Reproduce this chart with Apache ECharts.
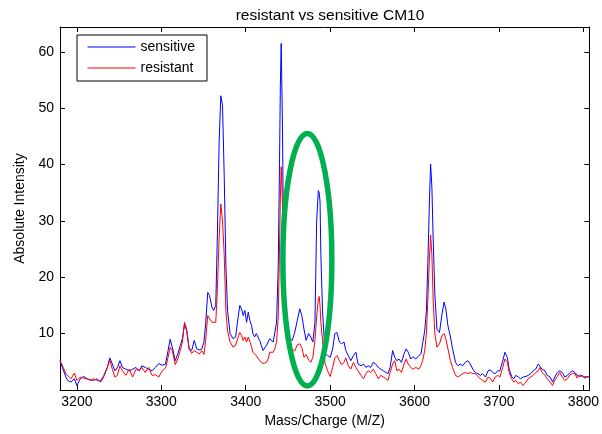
<!DOCTYPE html>
<html>
<head>
<meta charset="utf-8">
<script src="https://cdn.jsdelivr.net/npm/echarts@6/dist/echarts.min.js"></script>
<style>
html,body{margin:0;padding:0;background:#fff;}
#chart{width:602px;height:434px;}
</style>
</head>
<body>
<div id="chart"></div>
<script>
// Mass/charge positions (shared by both spectra)
const mz = [
3180,3187,3189,3193,3197,3200,3204,3208,3212,3216,3220,3224,3228,3232,3236,3239,3242,3245,3248,3251,3254,3258,3262,3266,3270,3274,3277,3281,3285,
3289,3293,3297,3301,3305,3308,3310.5,3313,3316.5,3319.5,3322.5,3325,3327.5,3330,3333,3336,3339,3342,3345,3348,3350.5,3352.5,3355,3357,3360,3362,
3364.5,3366.5,3368.5,3370.5,3372.5,3374.5,3376.5,3378.5,3381.5,
3385,3388,3391,3393,3395,3397,3399,3401,3403,3405,3407,3408.5,3410.5,3412.5,3414.5,3416.5,3418.5,3420.5,3422.5,3424.5,3426.5,3428.5,3430.5,3432.5,3434.5,
3436.5,3438.5,3440,3441,3442,3443.5,3444.5,3446,3448,3450,
3452,3455,3458,3461,3464,3466.5,3469,3471.5,3474.5,3477,3479.5,
3482,3484,3486,3487,3488,3489,3491,3494,
3497,3500,3503,3505.5,3508,3511,3513.5,3516.5,3518.5,3521.5,3524.5,3527.5,3530.5,3533,3536.5,3539.5,3542.5,3545,3548,3551,3554,3557,3560,3563,3566,3568.5,3571,3574,3576.5,3579,3581.5,3584.5,3587.5,3590,3592.5,3595.5,3598,
3601.5,3605,3607.5,3609.5,3612,
3614,3616,3617.5,3619,3620.5,3622,3624,3626.5,3629.5,3632.5,3635,3637,3639.5,3642.5,3645,3648.5,3651.5,3654,3657,3660,3663,3666,3669,3672,3675,3678,3680.5,3684,3687,3689.5,3692.5,3695.5,3698.5,
3701,3704.5,3707,3710,3712,3715,3717.5,3720,3723,3725.5,3728.5,3732,3734.5,3737.5,3740.5,3743.5,3746.5,3748.5,3751,3754.5,3757,3760.5,3763.5,3766,3769,3772,3775,3778,3781,3784,3787,3790,3792.5,3795.5,3799,3801.5,3804.5,3807
];
// Absolute intensity, sensitive sample (blue)
const sensitive = [
5.1,2.3,1.7,1.4,2.0,0.8,2.0,2.4,2.0,1.8,1.7,2.0,1.4,2.4,4.0,5.7,4.6,3.4,4.0,5.2,4.0,3.7,3.4,3.7,4.0,3.4,4.3,4.0,3.7,
3.4,4.0,4.7,4.4,4.6,7.0,9.0,7.6,5.2,6.4,7.9,9.1,11.7,10.5,7.3,7.0,8.8,7.3,7.1,7.3,8.5,11.7,17.3,16.8,14.7,14.1,
15,28,44,52.2,50.5,38,22,14,10,
9.1,9.4,12.9,15.0,14.4,13.2,14.1,12.0,13.8,12.3,11.4,10.0,9.4,10.0,9.4,8.8,7.9,7.0,7.3,7.9,8.2,9.1,8.8,8.5,10.2,
12,22,40,54,61.5,47,30,18,12,10,
9.1,8.8,10.2,12.3,14.4,13.2,10.8,8.8,10.0,9.4,8.5,
12,30,35.4,35,33.5,24,14,6.5,
6.1,5.8,7.3,10.0,10.2,8.5,8.2,8.5,7.0,6.1,5.2,6.1,6.7,4.6,4.3,4.6,4.0,4.3,4.0,4.9,4.6,4.0,3.7,3.4,3.1,2.9,4.0,7.0,5.8,5.2,5.5,4.9,6.4,7.3,6.7,5.5,5.9,
5.5,6.1,6.4,8.2,10.5,
14,24,33,40.1,36,27,17,10.8,10.2,13.5,15.6,14.4,11.4,9.4,7.3,4.9,4.3,4.6,4.3,4.9,5.2,4.6,3.7,3.1,2.9,2.6,2.9,2.3,3.4,3.6,3.1,2.9,3.4,
3.4,5.2,6.7,5.7,3.7,2.4,2.0,2.6,2.3,2.0,2.3,2.4,2.6,2.9,3.4,3.7,4.6,4.7,3.7,3.4,2.6,2.3,1.4,2.3,3.1,3.4,3.1,2.3,2.6,3.1,3.4,3.1,2.6,2.4,2.6,2.1,2.4,2.3
];
// Absolute intensity, resistant sample (red)
const resistant = [
5.3,2.9,2.6,2.0,3.0,1.7,2.3,2.1,2.0,1.7,2.0,1.7,1.6,2.6,4.0,5.3,3.7,2.3,2.6,4.3,3.4,2.6,3.7,2.3,3.7,3.4,4.0,3.1,4.0,
2.6,2.7,2.3,3.4,3.9,5.8,7.6,7.0,4.5,5.5,7.0,8.5,12.0,10.8,7.3,6.5,7.0,6.7,6.4,7.0,6.3,8.8,13.2,13.5,12.0,11.7,
12,18,27,33.0,30,24,14,10.5,8.5,
7.6,7.9,9.4,10.2,9.7,8.8,9.4,8.5,9.4,8.5,7.6,6.7,7.0,6.1,5.8,5.2,4.9,4.7,4.5,4.9,5.5,6.7,7.0,6.7,7.3,
8.5,13,25,34,39.6,33,24,15,10,7.9,
6.7,7.3,6.9,8.0,8.2,7.5,5.8,6.3,5.3,4.9,5.8,
8.8,13,16.2,16.6,15,12,8.8,4.7,
3.4,2.4,4.0,5.7,6.1,5.2,4.5,4.9,5.7,4.3,3.7,4.9,4.0,3.4,2.6,2.0,2.9,3.4,3.1,3.7,2.9,2.0,2.6,2.3,2.0,1.7,3.1,4.6,5.2,3.4,3.7,3.1,4.6,5.5,4.6,4.0,3.7,
4.0,3.7,4.3,5.2,7.0,
10,17,23,27.5,24,16,10,7.6,8.2,9.7,10.0,9.1,7.3,5.2,4.0,2.6,2.3,2.6,2.9,3.1,2.9,3.1,2.9,2.9,2.4,2.0,1.7,1.4,2.3,2.1,1.4,2.3,2.6,
2.3,4.0,5.5,4.9,3.1,2.0,1.4,1.7,1.1,1.4,0.8,1.4,2.0,2.3,2.6,3.1,3.4,4.0,3.1,2.6,2.0,1.4,0.8,1.7,2.4,3.1,2.3,1.7,2.0,2.7,2.9,2.9,2.1,2.7,2.3,2.4,2.3,2.4
];
const xTicks = [3200,3300,3400,3500,3600,3700,3800];
const yTicks = [10,20,30,40,50,60];
const seriesNames = ['sensitive','resistant'];
const titleText = 'resistant vs sensitive CM10';
const xName = 'Mass/Charge (M/Z)';
const yName = 'Absolute Intensity';
// highlighted region (green ellipse), in data units
const ellipseCenter = [3473, 23.1];
const ellipseHalf = [29, 22.4];

const FONT = '"Liberation Sans", Arial, sans-serif';
const chart = echarts.init(document.getElementById('chart'), null, {renderer:'canvas'});
const axisCommon = {
  axisLine:{show:true,onZero:false,lineStyle:{color:'#000',width:1}},
  splitLine:{show:false}
};
const plain = v => String(v);
chart.setOption({
  animation:false,
  backgroundColor:'#fff',
  textStyle:{fontFamily:FONT},
  title:{text:titleText,left:325,top:3,textAlign:'center',
    textStyle:{fontSize:15.5,fontWeight:'normal',color:'#000',fontFamily:FONT}},
  grid:{left:60,right:12,top:27,bottom:44,containLabel:false},
  legend:{data:seriesNames,orient:'vertical',left:77,top:35,
    itemWidth:48,itemHeight:14,itemGap:7,padding:[5,12,6,10],
    borderColor:'#000',borderWidth:1,backgroundColor:'#fff',
    itemStyle:{opacity:0},
    lineStyle:{width:1},
    textStyle:{fontSize:14,color:'#000',fontFamily:FONT}},
  xAxis:[
    Object.assign({type:'value',min:3180,max:3807,position:'bottom',
      name:xName,nameLocation:'middle',nameGap:21,
      nameTextStyle:{fontSize:14,color:'#000',fontFamily:FONT},
      axisTick:{show:true,inside:true,length:5,customValues:xTicks,lineStyle:{color:'#000'}},
      axisLabel:{customValues:xTicks,formatter:plain,fontSize:14,color:'#000',margin:5,fontFamily:FONT}},axisCommon),
    Object.assign({type:'value',min:3180,max:3807,position:'top',
      axisTick:{show:true,inside:true,length:5,customValues:xTicks,lineStyle:{color:'#000'}},
      axisLabel:{show:false}},axisCommon)
  ],
  yAxis:[
    Object.assign({type:'value',min:0,max:64.4,position:'left',
      name:yName,nameLocation:'middle',nameGap:33,
      nameTextStyle:{fontSize:14,color:'#000',fontFamily:FONT},
      axisTick:{show:true,inside:true,length:5,customValues:yTicks,lineStyle:{color:'#000'}},
      axisLabel:{customValues:yTicks,formatter:plain,fontSize:14,color:'#000',margin:6,fontFamily:FONT}},axisCommon),
    Object.assign({type:'value',min:0,max:64.4,position:'right',
      axisTick:{show:true,inside:true,length:5,customValues:yTicks,lineStyle:{color:'#000'}},
      axisLabel:{show:false}},axisCommon)
  ],
  series:[
    {name:seriesNames[0],type:'line',xAxisIndex:0,yAxisIndex:0,symbol:'none',
      lineStyle:{color:'#0000ff',width:1},itemStyle:{color:'#0000ff'},
      data:mz.map((x,i)=>[x,sensitive[i]])},
    {name:seriesNames[1],type:'line',xAxisIndex:0,yAxisIndex:0,symbol:'none',
      lineStyle:{color:'#ff0000',width:1},itemStyle:{color:'#ff0000'},
      data:mz.map((x,i)=>[x,resistant[i]])}
  ]
});
const c = chart.convertToPixel({xAxisIndex:0,yAxisIndex:0}, ellipseCenter);
const e = chart.convertToPixel({xAxisIndex:0,yAxisIndex:0}, [ellipseCenter[0]+ellipseHalf[0], ellipseCenter[1]+ellipseHalf[1]]);
chart.setOption({graphic:[{type:'ellipse',z:100,
  shape:{cx:c[0],cy:c[1],rx:e[0]-c[0],ry:c[1]-e[1]},
  style:{fill:'none',stroke:'#00b050',lineWidth:5.5}}]});
</script>
</body>
</html>
